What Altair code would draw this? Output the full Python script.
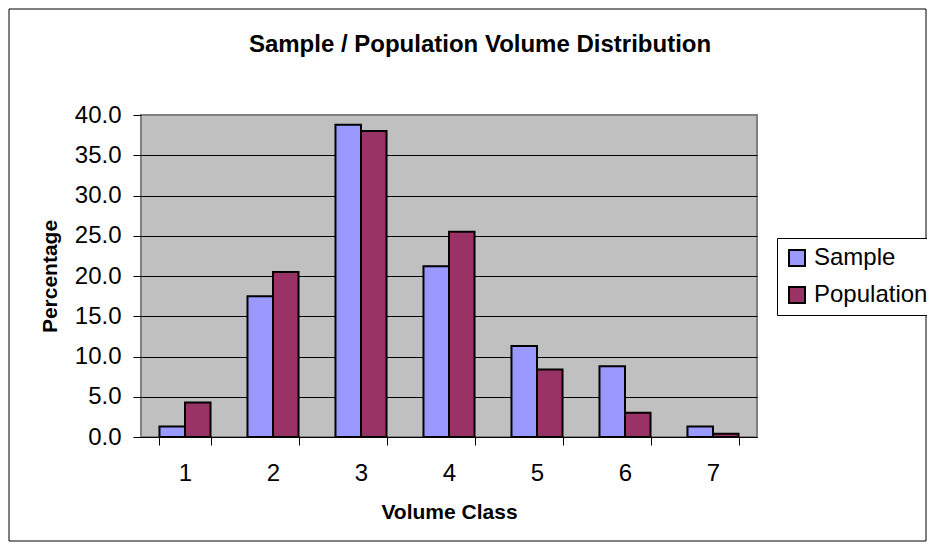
import altair as alt
import pandas as pd

# ---- data ----
classes = ["1", "2", "3", "4", "5", "6", "7"]
sample = [1.3, 17.5, 38.8, 21.2, 11.3, 8.8, 1.3]
population = [4.3, 20.5, 38.0, 25.5, 8.4, 3.0, 0.4]
series = ["Sample", "Population"]
colors = ["#9999FF", "#993366"]
y_ticks = [0, 5, 10, 15, 20, 25, 30, 35, 40]
chart_title = "Sample / Population Volume Distribution"

rows = []
for c, s, p in zip(classes, sample, population):
    rows.append({"cls": c, "series": "Sample", "pct": s})
    rows.append({"cls": c, "series": "Population", "pct": p})
df = pd.DataFrame(rows)

FONT = "Liberation Sans"
W, H = 616, 322
PAD = {"left": 133, "top": 107, "right": 170, "bottom": 105}

bars = alt.Chart(df).mark_bar(stroke="black", strokeWidth=2).encode(
    x=alt.X(
        "cls:N",
        sort=classes,
        title="Volume Class",
        scale=alt.Scale(paddingInner=0.42, paddingOuter=0.21),
        axis=alt.Axis(
            labelAngle=0, labelFontSize=24, labelColor="black", labelPadding=16,
            tickBand="extent", tickColor="black", tickSize=8, tickWidth=1,
            domainColor="black", domainWidth=1, grid=False,
            titleFontSize=21, titleFontWeight="bold", titleColor="black",
            titlePadding=16,
        ),
    ),
    xOffset=alt.XOffset("series:N", sort=series,
                        scale=alt.Scale(paddingInner=0, paddingOuter=0)),
    y=alt.Y(
        "pct:Q",
        title="Percentage",
        scale=alt.Scale(domain=[0, 40], nice=False),
        axis=alt.Axis(
            values=y_ticks, format=".1f", labelFontSize=24, labelColor="black",
            labelPadding=12, tickSize=8, tickColor="black", tickWidth=1,
            domain=False,
            gridColor={"condition": {"test": "datum.value >= 40", "value": "transparent"},
                       "value": "black"},
            gridWidth=1,
            titleFontSize=21, titleFontWeight="bold", titleColor="black",
            titlePadding=14,
        ),
    ),
    color=alt.Color(
        "series:N", sort=series,
        scale=alt.Scale(domain=series, range=colors),
        legend=alt.Legend(
            title=None, orient="none", legendX=636, legendY=123,
            strokeColor="black", fillColor="white", padding=8,
            symbolType="square", symbolSize=256, symbolStrokeColor="black",
            symbolStrokeWidth=2, labelFontSize=24, labelColor="black",
            rowPadding=13, labelOffset=5,
        ),
    ),
)

one = pd.DataFrame({"k": [0]})

frame = alt.Chart(one).mark_rect(fill="transparent", stroke="black", strokeWidth=1).encode(
    x=alt.value(-PAD["left"] + 1), x2=alt.value(W + PAD["right"] - 1),
    y=alt.value(-PAD["top"] + 1), y2=alt.value(H + PAD["bottom"] - 1),
)

title = alt.Chart(one).mark_text(
    fontSize=24, fontWeight="bold", color="black", align="center", baseline="alphabetic"
).encode(
    x=alt.value(339), y=alt.value(-63), text=alt.value(chart_title)
)

chart = alt.layer(frame, bars, title).properties(
    width=W, height=H,
    autosize=alt.AutoSizeParams(type="none"),
    padding=PAD,
).configure(font=FONT).configure_view(
    fill="#C0C0C0", stroke="#808080", strokeWidth=2
)

chart.save("out.html", embed_options={"renderer": "svg", "actions": False})
